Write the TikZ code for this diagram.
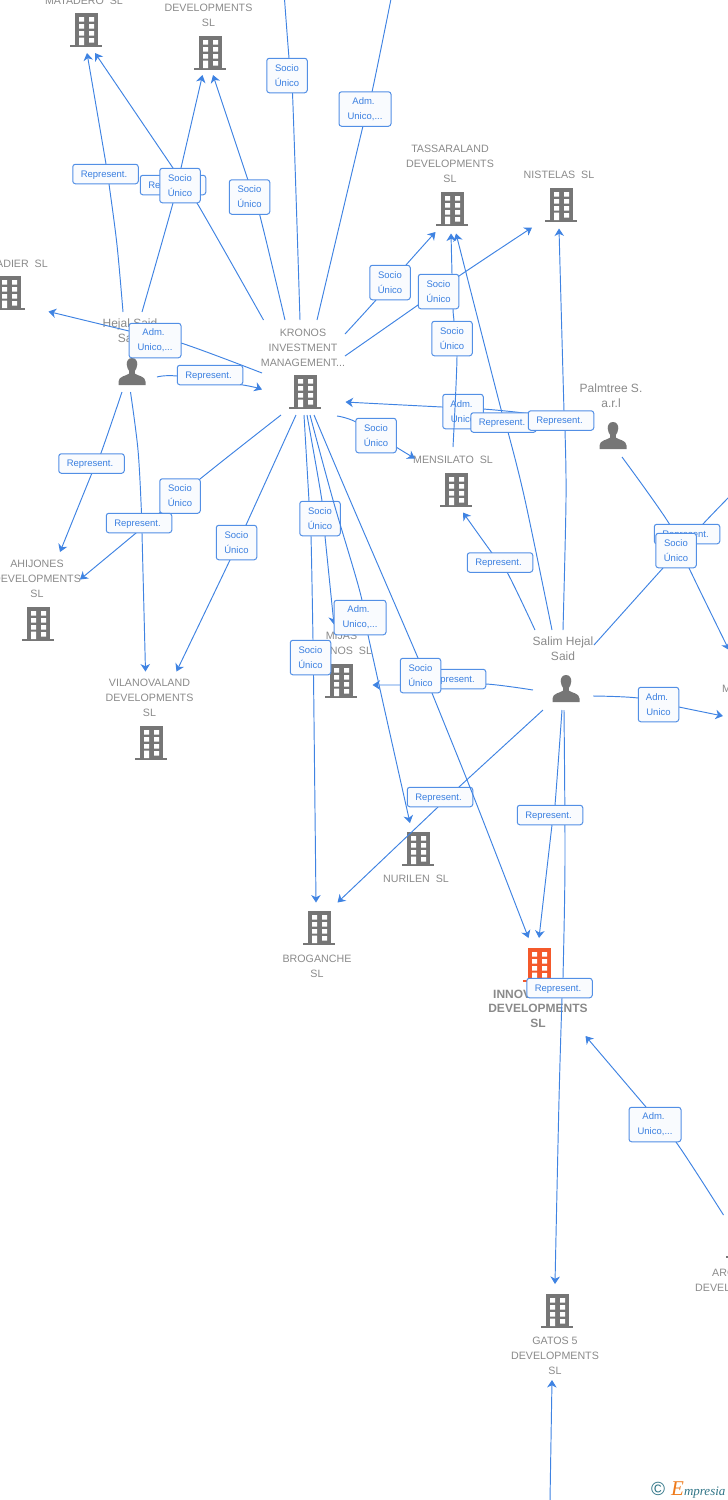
\documentclass[tikz,border=0pt]{standalone}
\usepackage{fontspec}
\setmainfont{Liberation Sans}
\newfontfamily\serifit{Liberation Serif}
\usetikzlibrary{arrows.meta,calc}
\definecolor{lineblue}{HTML}{3F83E2}
\definecolor{labblue}{HTML}{3A7FE0}
\definecolor{txtgray}{HTML}{8A8A8A}
\definecolor{icongray}{HTML}{767676}
\definecolor{hiorange}{HTML}{F4592B}
\definecolor{labfill}{HTML}{F9FBFE}
\definecolor{teal}{HTML}{2F7486}
\definecolor{logoor}{HTML}{EE7A1A}
\tikzset{
 conn/.style={draw=lineblue,line width=.95pt},
 arr/.style={conn,-{Stealth[length=7.5pt,width=9.5pt,inset=2.3pt]}},
 lab/.style={draw=lineblue!90,line width=1pt,rounded corners=2.6pt,fill=labfill,text=labblue,inner sep=0pt,align=center,font=\fontsize{9.5}{15}\selectfont,execute at begin node={\rule{0pt}{8.9pt}}},
 two/.style={lab,minimum width=40.5pt,minimum height=34.5pt},
 twow/.style={lab,minimum width=52pt,minimum height=34.5pt},
 one/.style={lab,minimum width=65.5pt,minimum height=19.5pt,execute at end node={\hspace*{3pt}}},
 co/.style={text=txtgray,inner sep=0pt,align=center,font=\fontsize{10.67}{15}\selectfont,yshift=-.8pt},
 per/.style={text=txtgray,inner sep=0pt,align=center,font=\fontsize{12}{15}\selectfont,yshift=-.5pt},
 bldg/.pic={
  \fill[#1] (-11.5,-34) rectangle (11.5,-1.5);
  \fill[#1] (-16,-2) rectangle (16,0);
  \fill[white] (-7,-30) rectangle (-2,-25.5) (3,-30) rectangle (8,-25.5)
    (-7,-23) rectangle (-2,-18.5) (3,-23) rectangle (8,-18.5)
    (-7,-16) rectangle (-2,-11.5) (3,-16) rectangle (8,-11.5)
    (3,-9) rectangle (8,-4.5) (-7,-9.5) rectangle (-2,-2);
 },
 pers/.pic={
  \fill[icongray] (0,0) .. controls (3.4,0) and (5.3,2.8) .. (5.3,6.2)
   .. controls (5.3,9.5) and (3.6,12) .. (2.8,13) -- (2.8,15.5)
   .. controls (5,17.8) and (13.5,18) .. (13.5,23.5) -- (13.5,27) -- (-13.5,27) -- (-13.5,23.5)
   .. controls (-13.5,18) and (-5,17.8) .. (-2.8,15.5) -- (-2.8,13)
   .. controls (-3.6,12) and (-5.3,9.5) .. (-5.3,6.2) .. controls (-5.3,2.8) and (-3.4,0) .. (0,0) -- cycle;
 }
}
\newcommand{\via}[2][]{\draw[#1] plot[smooth,tension=.55] coordinates {#2};}
\begin{document}
\begin{tikzpicture}[x=1pt,y=-1pt]
\path[use as bounding box] (0,0) rectangle (728,1500);
\clip (0,0) rectangle (728,1500);
% icons
\pic at (86,47) {bldg=icongray};
\pic at (210,70) {bldg=icongray};
\pic at (9,310) {bldg=icongray};
\pic at (305,409) {bldg=icongray};
\pic at (452,226) {bldg=icongray};
\pic at (561,222) {bldg=icongray};
\pic at (456,507) {bldg=icongray};
\pic at (38,641) {bldg=icongray};
\pic at (151,760) {bldg=icongray};
\pic at (341,698) {bldg=icongray};
\pic at (418,866) {bldg=icongray};
\pic at (319,945) {bldg=icongray};
\pic at (539,982) {bldg=hiorange};
\pic at (557,1328) {bldg=icongray};
\pic at (742,1258) {bldg=icongray};
\pic at (132,358) {pers};
\pic at (613,422) {pers};
\pic at (566,675) {pers};
% entity names
\node[co] (tMat) at (84,0) {MATADERO\ \ SL};
\node[co] (tB2) at (208.5,14.5) {DEVELOPMENTS\\SL};
\node[co,anchor=east] (tAdi) at (48,263) {ADIER\ \ SL};
\node[per] (tHej) at (130,330.5) {Hejal Said\\Said};
\node[co] (tKro) at (303,347) {KRONOS\\INVESTMENT\\MANAGEMENT...};
\node[co] (tTas) at (450,163) {TASSARALAND\\DEVELOPMENTS\\SL};
\node[co] (tNis) at (559,174) {NISTELAS\ \ SL};
\node[co] (tMen) at (453,459) {MENSILATO\ \ SL};
\node[per] (tPal) at (611,395.5) {Palmtree S.\\a.r.l};
\node[per] (tSal) at (563,648.5) {Salim Hejal\\Said};
\node[co] (tAhi) at (37,578) {AHIJONES\\DEVELOPMENTS\\SL};
\node[co] (tVil) at (149.5,697) {VILANOVALAND\\DEVELOPMENTS\\SL};
\node[co] (tMij) at (341.5,642.5) {MIJAS\\LLANOS\ \ SL};
\node[co] (tNur) at (416,878) {NURILEN\ \ SL};
\node[co] (tBro) at (317,965.5) {BROGANCHE\\SL};
\node[text=txtgray,inner sep=0pt,anchor=west,font=\fontsize{12}{15}\selectfont\bfseries] (tInn) at (493,994) {INNOVALAND};
\node[text=txtgray,inner sep=0pt,align=center,font=\fontsize{12}{15}\selectfont\bfseries] (tInn2) at (538,1016) {DEVELOPMENTS\\SL};
\node[co] (tGat) at (555,1355) {GATOS 5\\DEVELOPMENTS\\SL};
\node[co,anchor=west] (tArc) at (712,1272) {ARC};
\node[co,anchor=west] (tArc2) at (695,1287) {DEVELOPMENTS};
\node[co,anchor=west] (tM) at (722,688) {M};
% connector ends
\coordinate (topA) at (284.5,-1);
\coordinate (topB) at (391,-1);
\coordinate (kA) at (300,320);
\coordinate (kB) at (317,320);
\coordinate (kC) at (263.5,320);
\coordinate (kD) at (285,320);
\coordinate (kE) at (262,373);
\coordinate (kF) at (345,334);
\coordinate (kG) at (345,356);
\coordinate (kH) at (337,416);
\coordinate (kI) at (281,415);
\coordinate (kJ) at (296,415);
\coordinate (kK) at (304,415);
\coordinate (kL) at (307,415);
\coordinate (kM) at (310,415);
\coordinate (kN) at (314,415);
\coordinate (kIn) at (262,389.5);
\coordinate (kPal) at (345.5,402);
\coordinate (hA) at (123,312);
\coordinate (hB) at (142,312);
\coordinate (hC) at (157,377);
\coordinate (hD) at (122,392);
\coordinate (hE) at (130.5,392);
\coordinate (sA) at (552,630);
\coordinate (sB) at (563,630);
\coordinate (sC) at (535,630);
\coordinate (sD) at (594,645);
\coordinate (sE) at (533,690);
\coordinate (sF) at (593,696);
\coordinate (sG) at (543,710);
\coordinate (sH) at (562,710);
\coordinate (sI) at (564,710);
\coordinate (pA) at (622,457);
\coordinate (pB) at (575,420);
\coordinate (mMat) at (87,53);
\coordinate (mMat2) at (95,53);
\coordinate (mB2) at (202.5,75);
\coordinate (mB22) at (213,75);
\coordinate (mAdi) at (48.5,311.5);
\coordinate (mAhi) at (60,552);
\coordinate (mAhi2) at (80,579.5);
\coordinate (mVil) at (145.5,671.5);
\coordinate (mVil2) at (176.5,671.5);
\coordinate (mBro) at (316,902.5);
\coordinate (mBro2) at (337.5,902.5);
\coordinate (mMij) at (334,624.5);
\coordinate (mMij2) at (372.5,685);
\coordinate (mNur) at (410,823);
\coordinate (mInn) at (528.5,938);
\coordinate (mInn2) at (539,938);
\coordinate (mInn3) at (585.5,1036);
\coordinate (mTas) at (435.5,232);
\coordinate (mTas2) at (451,233.5);
\coordinate (mTas3) at (456,233.5);
\coordinate (mNis) at (532,227.5);
\coordinate (mNis2) at (559,228.5);
\coordinate (mMen) at (415,458.5);
\coordinate (mMen2) at (463,512.5);
\coordinate (mMenS) at (453,447);
\coordinate (mRt) at (729,650);
\coordinate (mRt2) at (723,716);
\coordinate (mRt3) at (729,497);
\coordinate (mGat) at (555,1284);
\coordinate (mGat2) at (552,1380);
\coordinate (gBot) at (550,1501);
\coordinate (arc) at (723.5,1215);
% connectors behind the labels
\via[conn]{(topA) (289,58) (292.5,93) (kA)}
\via[conn]{(topB) (372,92) (363,126) (kB)}
\via[arr]{(hA) (117,245) (109,184) (106,164) (mMat)}
\via[arr]{(kC) (197,203) (173,168) (mMat2)}
\via[arr]{(hB) (173,203) (181,168) (mB2)}
\via[arr]{(kD) (259.5,214) (248,180) (mB22)}
\via[arr]{(kE) (181,343) (129,331) (mAdi)}
\via[arr]{(hC) (177,376) (243,385) (kIn)}
\via[arr]{(hD) (101,453) (92,473) (mAhi)}
\via[arr]{(hE) (138,450) (141.5,513) (142,533) (mVil)}
\via[arr]{(kI) (200,479) (136,533) (mAhi2)}
\via[arr]{(kJ) (246,525) (230,560) (mVil2)}
\via[arr]{(kK) (309,501) (311,536) (313,640) (313.5,675) (mBro)}
\via[arr]{(kL) (322,501) (325,536) (mMij)}
\via[arr]{(kF) (376,300) (406,265) (mTas)}
\via[arr]{(kG) (418,305) (459,276) (mNis)}
\via[arr]{(sA) (525,500) (508,432) (502,413) (mTas3)}
\via[arr]{(sB) (566,500) (565,430) (564,411) (mNis2)}
\via[arr]{(pB) (524,413) (483,409) (442,407) (364,403) (kPal)}
\via[conn]{(mRt3) (703,524) (663,568) (sD)}
\via[arr]{(pA) (670,525) (689,568) (mRt)}
\via[arr]{(kH) (356,422) (396,447) (mMen)}
\via[arr]{(sC) (507,572) (492,553) (mMen2)}
\via[arr]{(sE) (486,684) (441,685) (400,685) (mMij2)}
\via[arr]{(sF) (638,698) (679,707) (mRt2)}
\via[arr]{(sG) (459,787) (438,807) (mBro2)}
\via[arr]{(sH) (555,805) (552,825) (mInn2)}
\via[arr]{(sI) (565,860) (563,978) (562,998) (559,1100) (mGat)}
\via[arr]{(arc) (676,1142) (646,1107) (mInn3)}
\via[arr]{(gBot) (mGat2)}
% labels and the connectors that cross over some of them
\node[one] (l1) at (105.5,174) {Represent.};
\node[one] (l2) at (173,185) {Represent.};
\node[two] (l3) at (180,185.5) {Socio\\Único};
\node[two] (l4) at (249.5,197) {Socio\\Único};
\node[two] (l5) at (287,75.5) {Socio\\Único};
\node[twow] (l6) at (365,109) {Adm.\hspace*{3pt}\\Unico,...};
\node[twow] (l7) at (155,340.5) {Adm.\hspace*{3pt}\\Unico,...};
\node[one] (l8) at (210,375) {Represent.};
\node[two] (l9) at (390,282.5) {Socio\\Único};
\node[two] (l10) at (463,411.5) {Adm.\hspace*{3pt}\\Unico};
\via[conn]{(mMenS) (457,356) (454,321) (453,309) (452,274)}
\via[arr]{(452,274) (mTas2)}
\node[one] (l11) at (503.5,422.5) {Represent.};
\node[one] (l12) at (561,420.5) {Represent.};
\node[two] (l13) at (438.5,291.5) {Socio\\Único};
\node[two] (l14) at (452,338.5) {Socio\\Único};
\node[two] (l15) at (376,435.5) {Socio\\Único};
\node[one] (l16) at (91.5,463.5) {Represent.};
\node[two] (l17) at (180,496) {Socio\\Único};
\node[one] (l18) at (139,523) {Represent.};
\node[two] (l19) at (236.5,542.5) {Socio\\Único};
\node[two] (l20) at (320,518.5) {Socio\\Único};
\via[arr]{(kM) (333,500) (360,592) (368,635) (mNur)}
\node[twow] (l21) at (360,617.5) {Adm.\hspace*{3pt}\\Unico,...};
\node[two] (l22) at (310.5,657.5) {Socio\\Único};
\node[one] (l23) at (500,562.5) {Represent.};
\node[one] (l24) at (687,534) {Represent.};
\node[two] (l25) at (676,550.5) {Socio\\Único};
\node[one] (l26) at (453,679) {Represent.};
\node[two] (l27) at (658.5,704.5) {Adm.\hspace*{3pt}\\Unico};
\node[one] (l28) at (440,797) {Represent.};
\via[arr]{(kN) (350,500) (418,658) (432,693) (475,800) (mInn)}
\node[two] (l29) at (420.5,675.5) {Socio\\Único};
\node[one] (l30) at (550,815) {Represent.};
\node[one] (l31) at (559.5,988) {Represent.};
\node[twow] (l32) at (655,1124.5) {Adm.\hspace*{3pt}\\Unico,...};
% logo
\node[text=teal,inner sep=0pt,font=\fontsize{19}{19}\selectfont] (cpr) at (658,1489) {©};
\node[inner sep=0pt,anchor=west,text=teal,font=\serifit\itshape\fontsize{13}{15}\selectfont] (logo) at (671,1490) {\textcolor{logoor}{\fontsize{21}{15}\selectfont E}mpresia};
\end{tikzpicture}
\end{document}
